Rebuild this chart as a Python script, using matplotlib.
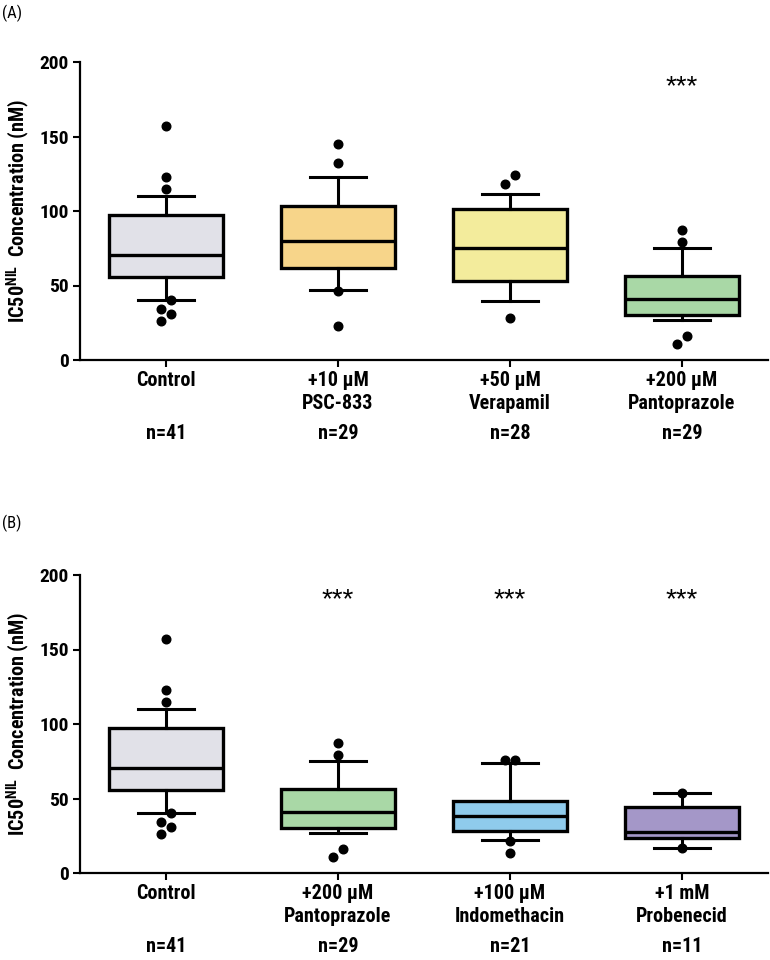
import matplotlib
matplotlib.use("Agg")
import matplotlib.pyplot as plt
import matplotlib.transforms as mtrans

FAM = ['Roboto Condensed', 'PT Sans Narrow', 'Liberation Sans', 'DejaVu Sans']
plt.rcParams['font.family'] = FAM
plt.rcParams['mathtext.fontset'] = 'custom'
plt.rcParams['mathtext.rm'] = 'Roboto Condensed:bold'
plt.rcParams['mathtext.bf'] = 'Roboto Condensed:bold'

# ---------------- data ----------------
# Panel A
labels_a = ["Control", "+10 µM\nPSC-833", "+50 µM\nVerapamil", "+200 µM\nPantoprazole"]
n_a = ["n=41", "n=29", "n=28", "n=29"]
colors_a = ["#e1e1e8", "#f7d58a", "#f3ec9c", "#a9d8a6"]
q1_a = [56, 61.5, 53.2, 30.5]
med_a = [70.8, 80, 75.4, 41]
q3_a = [97, 103.5, 101.5, 56.6]
whislo_a = [40.3, 47, 39.6, 26.8]
whishi_a = [110, 123, 111.6, 75]
fliers_a = [[157, 123, 115, 40, 34, 31, 26],
            [145, 132, 46, 23],
            [124, 118, 28],
            [87, 79, 16, 11]]
sig_a = ["", "", "", "***"]

# Panel B
labels_b = ["Control", "+200 µM\nPantoprazole", "+100 µM\nIndomethacin", "+1 mM\nProbenecid"]
n_b = ["n=41", "n=29", "n=21", "n=11"]
colors_b = ["#e1e1e8", "#a9d8a6", "#8fcbec", "#a497c8"]
q1_b = [56, 30.5, 28.3, 23.2]
med_b = [70.8, 41, 38.2, 27.6]
q3_b = [97, 56.6, 48.2, 44]
whislo_b = [40.3, 26.8, 22.2, 16.6]
whishi_b = [110, 75, 73.5, 53.8]
fliers_b = [[157, 123, 115, 40, 34, 31, 26],
            [87, 79, 16, 11],
            [75.8, 75.8, 21.5, 13.4],
            [53.8, 16.6]]
sig_b = ["", "***", "***", "***"]

yticks = [0, 50, 100, 150, 200]
ylabel = r"IC50$^{\rm NIL}$  Concentration (nM)"


def dodge(vals, thr=7.0, d=0.03):
    """Spread overlapping dots sideways (simple swarm)."""
    order = sorted(range(len(vals)), key=lambda i: vals[i])
    offs = [0.0] * len(vals)
    clusters = []
    cur = []
    for i in order:
        if cur and vals[i] - vals[cur[-1]] >= thr:
            clusters.append(cur)
            cur = []
        cur.append(i)
    if cur:
        clusters.append(cur)
    for c in clusters:
        if len(c) > 1:
            for k, i in enumerate(c):
                offs[i] = -d if k % 2 == 0 else d
    return offs


def panel(fig, rect, labels, nlab, colors, q1, med, q3, wlo, whi, fliers, sig, tag, tag_y):
    ax = fig.add_axes(rect)
    stats = []
    for i in range(len(labels)):
        stats.append(dict(med=med[i], q1=q1[i], q3=q3[i], whislo=wlo[i], whishi=whi[i], fliers=[]))
    pos = list(range(len(labels)))
    bp = ax.bxp(stats, positions=pos, widths=0.66, patch_artist=True, showfliers=False,
                boxprops=dict(linewidth=2.4, edgecolor='black'),
                medianprops=dict(linewidth=2.4, color='black'),
                whiskerprops=dict(linewidth=2.2, color='black'),
                capprops=dict(linewidth=2.2, color='black'),
                capwidths=0.33)
    for patch, c in zip(bp['boxes'], colors):
        patch.set_facecolor(c)
    for i, fl in enumerate(fliers):
        offs = dodge(fl)
        ax.plot([pos[i] + o for o in offs], fl, 'o', color='black', markersize=6.2,
                linestyle='none', zorder=5)
    for i, s in enumerate(sig):
        if s:
            ax.text(pos[i], 183, s, ha='center', va='center', fontsize=20,
                    family=['Liberation Sans', 'DejaVu Sans'])
    ax.set_xlim(-0.5, 3.5)
    ax.set_ylim(0, 200)
    ax.set_yticks(yticks)
    ax.set_xticks(pos)
    ax.set_xticklabels(labels, fontsize=14.5, fontweight='bold', linespacing=1.25)
    for t in ax.get_yticklabels():
        t.set_fontsize(14)
        t.set_fontweight('bold')
    ax.tick_params(axis='both', direction='out', length=5, width=1.5, pad=3)
    for sp in ['top', 'right']:
        ax.spines[sp].set_visible(False)
    for sp in ['left', 'bottom']:
        ax.spines[sp].set_linewidth(1.6)
    ax.set_ylabel(ylabel, fontsize=14.5, fontweight='bold', labelpad=5)
    trans = mtrans.blended_transform_factory(ax.transData, ax.transAxes)
    for i, s in enumerate(nlab):
        ax.text(pos[i], -0.245, s, transform=trans, ha='center', va='center',
                fontsize=14.5, fontweight='bold')
    fig.text(0.003, tag_y, tag, ha='left', va='center', fontsize=12, fontweight='normal')
    return ax


fig = plt.figure(figsize=(7.7, 9.6), dpi=100)
panel(fig, [80 / 770, 1 - 360 / 960, 688 / 770, 298 / 960], labels_a, n_a, colors_a,
      q1_a, med_a, q3_a, whislo_a, whishi_a, fliers_a, sig_a, "(A)", 1 - 13 / 960)
panel(fig, [80 / 770, 1 - 873 / 960, 688 / 770, 298 / 960], labels_b, n_b, colors_b,
      q1_b, med_b, q3_b, whislo_b, whishi_b, fliers_b, sig_b, "(B)", 1 - 523 / 960)
fig.savefig("out.png", dpi=100)
